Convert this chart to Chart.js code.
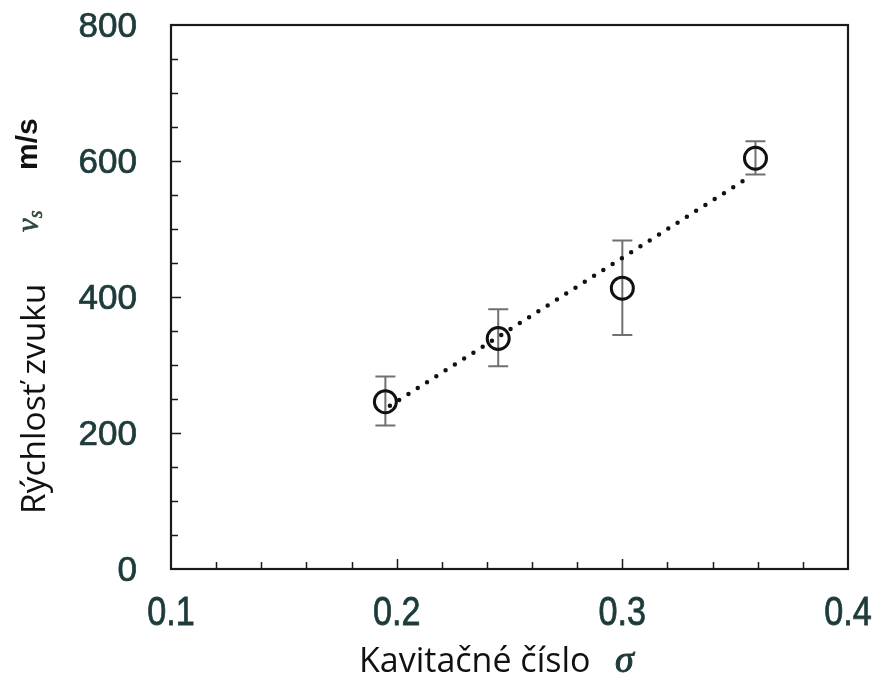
<!DOCTYPE html>
<html><head><meta charset="utf-8">
<script src="https://cdn.jsdelivr.net/npm/chart.js@4.4.0/dist/chart.umd.min.js"></script>
<style>html,body{margin:0;padding:0;background:#fff;}</style>
</head><body>
<canvas id="c" width="879" height="684"></canvas>
<script>
// ---- data ----
const sigma    = [0.195, 0.245, 0.300, 0.359];
const speed    = [246, 339, 413, 604];
const errLow   = [211, 298, 344, 580];
const errHigh  = [283, 382, 483, 629];
const trendX   = [0.197, 0.357];
const trendY   = [240, 578];
const xTicks   = [0.1, 0.2, 0.3, 0.4];
const yTicks   = [0, 200, 400, 600, 800];
const xMinorStep = 0.02;
const yMinorStep = 50;
const xTitle = 'Kavitačné číslo';
const xSym = 'σ';
const yTitle = 'Rýchlosť zvuku';
const ySym = 'v';
const ySub = 's';
const yUnit = 'm/s';

const tickColor = '#1e3b3b';

const points = sigma.map((x, i) => ({x, y: speed[i]}));
const trend = trendX.map((x, i) => ({x, y: trendY[i]}));

const errorBars = {
  id: 'errorBars',
  beforeDatasetsDraw(chart) {
    const {ctx, scales: {x, y}} = chart;
    ctx.save();
    ctx.strokeStyle = '#707070';
    ctx.lineWidth = 2;
    sigma.forEach((s, i) => {
      const px = x.getPixelForValue(s);
      const lo = y.getPixelForValue(errLow[i]);
      const hi = y.getPixelForValue(errHigh[i]);
      ctx.beginPath();
      ctx.moveTo(px, lo); ctx.lineTo(px, hi);
      ctx.moveTo(px - 10, lo); ctx.lineTo(px + 10, lo);
      ctx.moveTo(px - 10, hi); ctx.lineTo(px + 10, hi);
      ctx.stroke();
    });
    ctx.restore();
  }
};

function heavyText(ctx, txt, px, py) {
  ctx.fillText(txt, px, py);
  ctx.strokeText(txt, px, py);
}

const frame = {
  id: 'frame',
  afterDraw(chart) {
    const {ctx, chartArea: a, scales: {x, y}} = chart;
    ctx.save();
    ctx.strokeStyle = '#1a1a1a';
    ctx.lineWidth = 2.2;
    ctx.strokeRect(a.left, a.top, a.right - a.left, a.bottom - a.top);
    ctx.lineWidth = 1.5;
    ctx.beginPath();
    const xMin = xTicks[0], xMax = xTicks[xTicks.length - 1];
    const nx = Math.round((xMax - xMin) / xMinorStep);
    for (let i = 1; i < nx; i++) {
      const v = xMin + i * xMinorStep;
      const major = xTicks.some(t => Math.abs(t - v) < 1e-9);
      const px = Math.round(x.getPixelForValue(v)) + 0.5;
      ctx.moveTo(px, a.bottom); ctx.lineTo(px, a.bottom - (major ? 10 : 7));
    }
    const yMin = yTicks[0], yMax = yTicks[yTicks.length - 1];
    const ny = Math.round((yMax - yMin) / yMinorStep);
    for (let i = 1; i < ny; i++) {
      const v = yMin + i * yMinorStep;
      const major = yTicks.includes(v);
      const py = Math.round(y.getPixelForValue(v)) + 0.5;
      ctx.moveTo(a.left, py); ctx.lineTo(a.left + (major ? 10 : 7), py);
    }
    ctx.stroke();

    // x tick labels
    ctx.fillStyle = tickColor;
    ctx.strokeStyle = tickColor;
    ctx.lineWidth = 0.7;
    ctx.font = '36px "Liberation Sans", Arial';
    ctx.textAlign = 'center';
    ctx.textBaseline = 'alphabetic';
    xTicks.forEach(v => {
      ctx.save();
      ctx.translate(x.getPixelForValue(v), 625);
      ctx.scale(0.95, 1.15);
      heavyText(ctx, v.toFixed(1), 0, 0);
      ctx.restore();
    });

    // y tick labels
    ctx.font = '35px "Liberation Sans", Arial';
    ctx.textAlign = 'right';
    yTicks.forEach(v => {
      heavyText(ctx, String(v), 137, y.getPixelForValue(v) + 12);
    });

    // x title
    ctx.textAlign = 'left';
    ctx.fillStyle = '#111';
    ctx.font = '34px "Open Sans"';
    ctx.fillText(xTitle, 359, 672);
    ctx.fillStyle = tickColor;
    ctx.strokeStyle = tickColor;
    ctx.lineWidth = 1;
    ctx.font = 'italic 38px "Liberation Serif"';
    heavyText(ctx, xSym, 615, 672);

    // y title (rotated)
    ctx.save();
    ctx.translate(45, 514);
    ctx.rotate(-Math.PI / 2);
    ctx.fillStyle = '#111';
    ctx.font = '33.5px "Open Sans"';
    ctx.fillText(yTitle, 0, 0);
    ctx.fillStyle = '#2c4634';
    ctx.strokeStyle = '#2c4634';
    ctx.lineWidth = 0.6;
    ctx.font = 'italic 31px "Liberation Serif"';
    heavyText(ctx, ySym, 282, -7);
    const vw = ctx.measureText(ySym).width;
    ctx.font = 'italic 20px "Liberation Serif"';
    heavyText(ctx, ySub, 282 + vw, -3);
    ctx.fillStyle = '#111';
    ctx.font = 'bold 30px "Liberation Sans"';
    ctx.fillText(yUnit, 344, -8);
    ctx.restore();
    ctx.restore();
  }
};

new Chart(document.getElementById('c'), {
  type: 'scatter',
  data: {
    datasets: [
      {
        data: trend, showLine: true, borderColor: '#111', borderWidth: 4.5,
        borderDash: [0, 11], borderCapStyle: 'round', pointRadius: 0, fill: false, order: 2
      },
      {
        data: points, pointStyle: 'circle', pointRadius: 11, pointBorderWidth: 3,
        pointBorderColor: '#111', pointBackgroundColor: 'rgba(0,0,0,0)', showLine: false, order: 1
      }
    ]
  },
  options: {
    responsive: false, animation: false,
    layout: {padding: {top: 25, right: 31, left: 0, bottom: 0}},
    plugins: {legend: {display: false}, tooltip: {enabled: false}},
    scales: {
      x: {
        type: 'linear', min: 0.1, max: 0.4,
        afterBuildTicks: s => { s.ticks = xTicks.map(v => ({value: v})); },
        afterFit: s => { s.height = 115; s.paddingLeft = 0; s.paddingRight = 0; },
        grid: {display: false, drawTicks: false},
        border: {display: false},
        ticks: {display: false}
      },
      y: {
        type: 'linear', min: 0, max: 800,
        afterBuildTicks: s => { s.ticks = yTicks.map(v => ({value: v})); },
        afterFit: s => { s.width = 171; s.paddingTop = 0; s.paddingBottom = 0; },
        grid: {display: false, drawTicks: false},
        border: {display: false},
        ticks: {display: false}
      }
    }
  },
  plugins: [errorBars, frame]
});
</script>
</body></html>
